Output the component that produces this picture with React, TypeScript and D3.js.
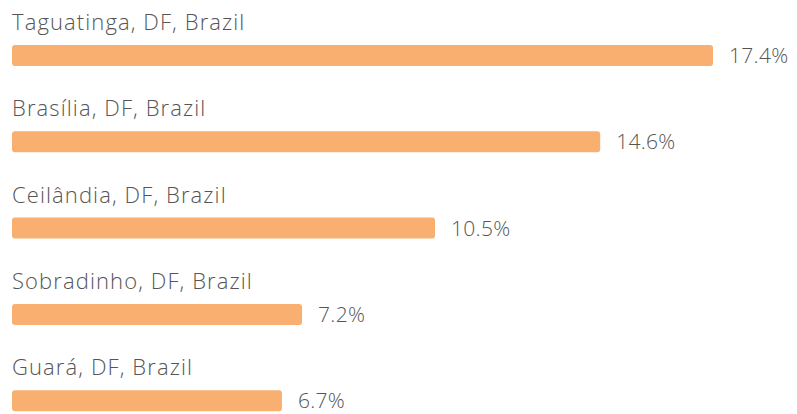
import React from "react";
import * as d3 from "d3";

const categories: string[] = [
  "Taguatinga, DF, Brazil",
  "Brasília, DF, Brazil",
  "Ceilândia, DF, Brazil",
  "Sobradinho, DF, Brazil",
  "Guará, DF, Brazil",
];
const values: number[] = [17.4, 14.6, 10.5, 7.2, 6.7];

const W = 797;
const H = 414;

export default function App() {
  const x = d3.scaleLinear().domain([0, 17.4]).range([12, 713]);
  const y = d3
    .scaleBand<string>()
    .domain(categories)
    .range([45, 45 + 86.3 * categories.length]);
  const barH = 21;
  const font = "'Open Sans', 'Noto Sans', sans-serif";
  return (
    <svg
      width={W}
      height={H}
      style={{ position: "absolute", left: 0, top: 0, background: "#fff" }}
    >
      {categories.map((c, i) => {
        const top = y(c) ?? 0;
        const v = values[i];
        return (
          <g key={c}>
            <text
              x={12}
              y={top - 15}
              fontFamily={font}
              fontSize={22}
              fontWeight={300}
              letterSpacing={1.1}
              fill="#555"
            >
              {c}
            </text>
            <rect
              x={x(0)}
              y={top}
              width={x(v) - x(0)}
              height={barH}
              rx={3}
              fill="#F8AF6F"
            />
            <text
              x={x(v) + 16}
              y={top + barH / 2}
              dy="0.36em"
              fontFamily={font}
              fontSize={21}
              fontWeight={300}
              letterSpacing={0.3}
              fill="#555"
            >
              {v.toFixed(1) + "%"}
            </text>
          </g>
        );
      })}
    </svg>
  );
}
